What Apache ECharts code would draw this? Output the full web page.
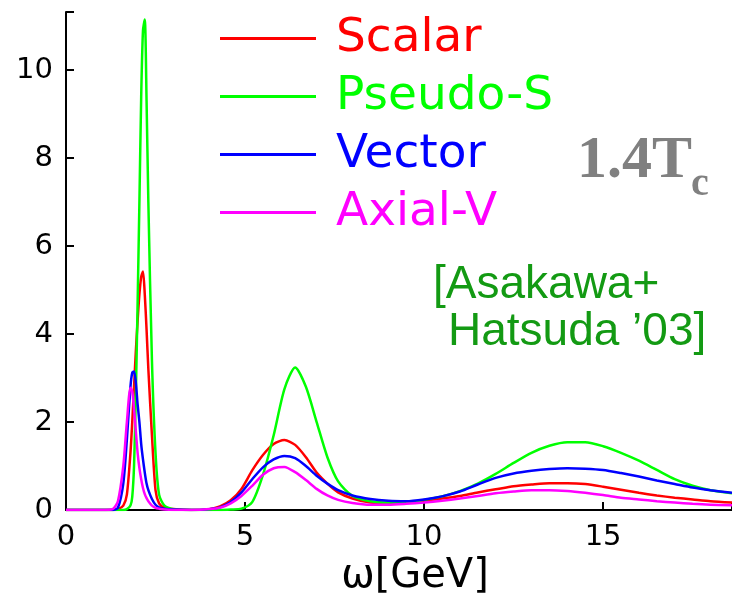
<!DOCTYPE html>
<html><head><meta charset="utf-8">
<script src="https://cdn.jsdelivr.net/npm/echarts@6/dist/echarts.min.js"></script>
<style>html,body{margin:0;padding:0;background:#fff}#c{width:732px;height:593px}</style>
</head><body><div id="c"></div>
<script>
// omega [GeV]
const omega = [0, 1.0, 1.3, 1.45, 1.6, 1.7, 1.8, 1.85, 1.9, 1.95, 2.0, 2.05, 2.1, 2.15, 2.2, 2.25, 2.3, 2.4, 2.5, 2.6, 2.75, 3.0,
  3.5, 4.0, 4.3, 4.6, 4.9, 5.2, 5.5, 5.8, 6.1, 6.4, 6.7, 7.0, 7.3, 7.6, 8.0, 8.5, 9.0, 9.5, 10, 10.5, 11, 11.5, 12, 12.5, 13, 13.5, 14, 14.5, 15, 15.5, 16, 16.5, 17, 17.5, 18, 18.6];
const scalar = [0, 0, 0, 0.02, 0.1, 0.35, 1.3, 2.0, 2.8, 3.6, 4.3, 4.9, 5.3, 5.42, 4.9, 4.1, 3.2, 1.7, 0.45, 0.15, 0.05, 0.02,
  0, 0.02, 0.08, 0.22, 0.48, 0.9, 1.25, 1.5, 1.59, 1.48, 1.2, 0.85, 0.6, 0.4, 0.26, 0.17, 0.16, 0.18, 0.21, 0.26, 0.32, 0.4, 0.47, 0.54, 0.58, 0.61, 0.61, 0.59, 0.53, 0.46, 0.39, 0.33, 0.28, 0.24, 0.2, 0.17];
const pseudoS = [0, 0, 0, 0, 0, 0.02, 0.1, 0.3, 1.0, 2.6, 4.7, 7.0, 9.4, 10.9, 11.15, 9.3, 7.0, 3.4, 1.3, 0.35, 0.1, 0.02,
  0, 0, 0, 0.01, 0.03, 0.18, 0.8, 1.7, 2.75, 3.24, 2.8, 2.0, 1.2, 0.65, 0.32, 0.2, 0.17, 0.17, 0.23, 0.31, 0.43, 0.6, 0.82, 1.07, 1.3, 1.46, 1.54, 1.54, 1.45, 1.3, 1.12, 0.91, 0.7, 0.55, 0.45, 0.38];
const vector = [0, 0, 0, 0.05, 0.6, 1.6, 2.8, 3.12, 3.15, 2.9, 2.4, 2.0, 1.5, 1.15, 0.85, 0.6, 0.45, 0.25, 0.12, 0.06, 0.03, 0.01,
  0, 0.02, 0.06, 0.18, 0.4, 0.7, 0.97, 1.15, 1.23, 1.18, 1.0, 0.78, 0.6, 0.45, 0.33, 0.25, 0.21, 0.2, 0.24, 0.31, 0.42, 0.58, 0.73, 0.83, 0.89, 0.93, 0.95, 0.94, 0.91, 0.84, 0.76, 0.67, 0.59, 0.51, 0.45, 0.39];
const axialV = [0, 0, 0.02, 0.2, 1.0, 2.0, 2.78, 2.7, 2.3, 1.8, 1.3, 0.95, 0.7, 0.5, 0.36, 0.27, 0.2, 0.1, 0.05, 0.03, 0.01, 0,
  0, 0.02, 0.05, 0.15, 0.32, 0.55, 0.8, 0.95, 0.98, 0.86, 0.68, 0.48, 0.33, 0.23, 0.16, 0.12, 0.12, 0.14, 0.17, 0.21, 0.26, 0.32, 0.38, 0.42, 0.45, 0.45, 0.43, 0.39, 0.34, 0.28, 0.24, 0.2, 0.17, 0.14, 0.12, 0.11];

const seriesNames = ['Scalar', 'Pseudo-S', 'Vector', 'Axial-V'];
const seriesColors = ['#ff0000', '#00ff00', '#0000ff', '#ff00ff'];
const seriesValues = [scalar, pseudoS, vector, axialV];
const xTicks = [0, 5, 10, 15];
const yTicks = [0, 2, 4, 6, 8, 10];

const chart = echarts.init(document.getElementById('c'), null, {renderer: 'canvas'});
const font = '"DejaVu Sans", sans-serif';
chart.setOption({
  animation: false,
  backgroundColor: '#ffffff',
  grid: {left: 66, right: 0, top: 12, bottom: 83, containLabel: false, outerBoundsMode: 'none'},
  legend: {
    orient: 'vertical', left: 215, top: 10,
    icon: 'rect', itemWidth: 96, itemHeight: 3, itemGap: 11,
    textStyle: {fontFamily: font, fontSize: 47, lineHeight: 46, padding: [0, 0, 0, 15]},
    data: seriesNames.map((n, i) => ({name: n, textStyle: {color: seriesColors[i]}}))
  },
  xAxis: {
    type: 'value', min: 0, max: 18.6, interval: 5,
    name: 'ω[GeV]', nameLocation: 'middle', nameGap: 45,
    nameTextStyle: {fontFamily: font, fontSize: 40, lineHeight: 40, color: '#000', padding: [0, 0, 0, 32]},
    axisLine: {lineStyle: {color: '#000', width: 2}},
    axisTick: {inside: true, length: 8, lineStyle: {color: '#000', width: 2}},
    splitLine: {show: false},
    axisLabel: {fontFamily: font, fontSize: 29, color: '#000', margin: 13,
      formatter: v => xTicks.includes(v) ? String(v) : ''}
  },
  yAxis: {
    type: 'value', min: 0, max: 11.32, interval: 2,
    axisLine: {show: true, lineStyle: {color: '#000', width: 2}},
    axisTick: {show: true, inside: true, length: 8, lineStyle: {color: '#000', width: 2}},
    splitLine: {show: false},
    axisLabel: {fontFamily: font, fontSize: 29, color: '#000', margin: 13,
      formatter: v => yTicks.includes(v) ? String(v) : ''}
  },
  series: seriesNames.map((n, i) => ({
    name: n, type: 'line', showSymbol: false, smooth: 0.25,
    color: seriesColors[i],
    lineStyle: {width: 2.5, color: seriesColors[i]},
    data: omega.map((x, k) => [x, seriesValues[i][k]])
  })),
  graphic: [
    {type: 'text', left: 577, top: 131, style: {text: '1.4T', font: 'bold 60px "Liberation Serif", serif', fill: '#808080'}},
    {type: 'text', left: 691, top: 165, style: {text: 'c', font: 'bold 40px "Liberation Serif", serif', fill: '#808080'}},
    {type: 'text', left: 433, top: 262, style: {text: '[Asakawa+', font: '46px "Liberation Sans", Arial, sans-serif', fill: '#139a13'}},
    {type: 'text', left: 448, top: 309, style: {text: 'Hatsuda ’03]', font: '46px "Liberation Sans", Arial, sans-serif', fill: '#139a13'}}
  ]
});
</script>
</body></html>
